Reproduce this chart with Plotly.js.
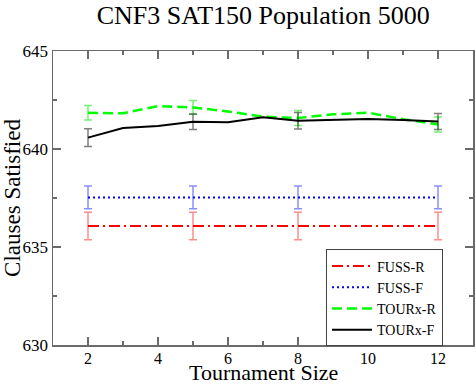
<!DOCTYPE html>
<html>
<head>
<meta charset="utf-8">
<script src="https://cdn.plot.ly/plotly-3.0.1.min.js"></script>
<style>
  html, body { margin: 0; padding: 0; background: #fff; }
  #chart { width: 476px; height: 384px; }
</style>
</head>
<body>
<div id="chart"></div>
<script>
// tournament sizes and mean clauses satisfied
const tourX = [2, 3, 4, 5, 6, 7, 8, 9, 10, 11, 12];
const tourR = [641.85, 641.82, 642.19, 642.12, 641.91, 641.65, 641.58, 641.77, 641.85, 641.52, 641.25];
const tourF = [640.58, 641.07, 641.17, 641.39, 641.36, 641.62, 641.44, 641.48, 641.53, 641.48, 641.40];

const fussX = [2, 5, 8, 12];
const fussR = [636.07, 636.07, 636.07, 636.07];
const fussF = [637.53, 637.53, 637.53, 637.53];

// error bars only shown at these sizes
const errX = [2, 5, 8, 12];
const fussRErr = [0.70, 0.70, 0.70, 0.70];
const fussFErr = [0.58, 0.58, 0.58, 0.58];
const tourRErr = [0.37, 0.35, 0.38, 0.38];
const tourFErr = [0.45, 0.39, 0.42, 0.41];

const xTicks = [2, 4, 6, 8, 10, 12];
const yTicks = [630, 635, 640, 645];

// spread the 4 error values over the full x list, NaN = no bar
function spread(xs, errs) {
    return xs.map(x => {
        const k = errX.indexOf(x);
        return k < 0 ? NaN : errs[k];
    });
}

const serif = "Liberation Serif";
const frame = "#6a6a6a";

function errBar(vals, color) {
    return { type: "data", array: vals, visible: true, color: color, thickness: 1.5, width: 4 };
}

const traces = [
    {
        x: fussX, y: fussR, mode: "lines", name: "FUSS-R",
        line: { color: "#ff0000", width: 2, dash: "11px,4px,2px,4px" },
        error_y: errBar(spread(fussX, fussRErr), "rgba(255,0,0,0.45)"),
    },
    {
        x: fussX, y: fussF, mode: "lines", name: "FUSS-F",
        line: { color: "#0000ff", width: 2, dash: "2px,3px" },
        error_y: errBar(spread(fussX, fussFErr), "rgba(0,0,255,0.45)"),
    },
    {
        x: tourX, y: tourR, mode: "lines", name: "TOURx-R",
        line: { color: "#00ff00", width: 2.5, dash: "10px,5px" },
        error_y: errBar(spread(tourX, tourRErr), "rgba(0,230,0,0.55)"),
    },
    {
        x: tourX, y: tourF, mode: "lines", name: "TOURx-F",
        line: { color: "#000000", width: 2 },
        error_y: errBar(spread(tourX, tourFErr), "rgba(0,0,0,0.5)"),
    },
];

const layout = {
    width: 476,
    height: 384,
    margin: { l: 53, r: 3, t: 51, b: 39 },
    paper_bgcolor: "#fff",
    plot_bgcolor: "#fff",
    font: { family: serif, color: "#000", size: 16 },
    title: {
        text: "CNF3 SAT150 Population 5000",
        font: { family: serif, size: 26, color: "#000" },
        x: 0.553, xanchor: "center",
        y: 0.985, yanchor: "top",
    },
    xaxis: {
        range: [1, 13],
        tickvals: xTicks,
        ticks: "inside", ticklen: 8, tickwidth: 1.5, tickcolor: frame,
        minor: { dtick: 1, tick0: 1, ticks: "inside", ticklen: 4, tickwidth: 1.5, tickcolor: frame },
        showline: true, linecolor: frame, linewidth: 1.5, mirror: "ticks",
        showgrid: false, zeroline: false,
        ticklabelstandoff: -2,
        tickfont: { family: serif, size: 16, color: "#000" },
    },
    yaxis: {
        range: [630, 645],
        tickvals: yTicks,
        ticks: "inside", ticklen: 8, tickwidth: 1.5, tickcolor: frame,
        minor: { dtick: 2.5, tick0: 630, ticks: "inside", ticklen: 4, tickwidth: 1.5, tickcolor: frame },
        showline: true, linecolor: frame, linewidth: 1.5, mirror: "ticks",
        showgrid: false, zeroline: false,
        tickfont: { family: serif, size: 17, color: "#000" },
        title: { text: "Clauses Satisfied", font: { family: serif, size: 23, color: "#000" }, standoff: 4 },
    },
    // x title as an annotation: the axis title would be squeezed inside the small bottom margin
    annotations: [{
        text: "Tournament Size",
        xref: "paper", yref: "paper", x: 0.5, y: -0.095,
        xanchor: "center", yanchor: "middle", showarrow: false,
        font: { family: serif, size: 22, color: "#000" },
    }],
    legend: {
        x: 0.65, y: 0.325, xanchor: "left", yanchor: "top",
        bgcolor: "#fff", bordercolor: "#444", borderwidth: 1,
        font: { family: serif, size: 14, color: "#000" },
        itemwidth: 40,
        tracegroupgap: 0,
    },
    showlegend: true,
};

Plotly.newPlot("chart", traces, layout, { displayModeBar: false, staticPlot: true });
</script>
</body>
</html>
